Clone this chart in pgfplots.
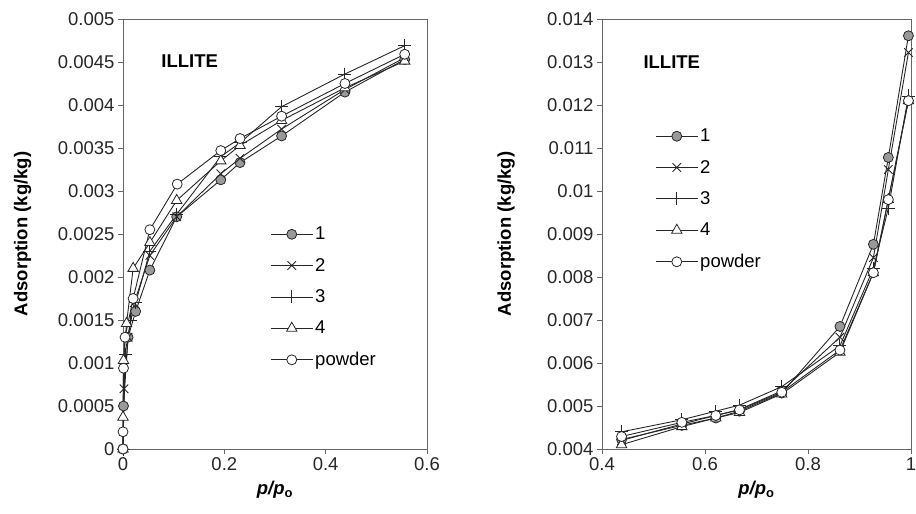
\documentclass[border=0pt]{standalone}
\usepackage{pgfplots}
\pgfplotsset{compat=1.18}
\usepackage{fontspec}
\setmainfont{Liberation Sans}

\newcommand{\fs}{\fontsize{18.5bp}{21bp}\selectfont}

\pgfplotsset{
  isotherm/.style={
    scale only axis, height=430bp,
    axis line style={draw=black!60, line width=0.8bp},
    tick style={draw=black!60, line width=0.6bp},
    tick align=outside, tick pos=left, major tick length=5bp,
    font=\fs,
    ticklabel style={font=\fs, text=black!85},
    /pgf/number format/assume math mode=true,
    scaled ticks=false,
    xticklabel style={/pgf/number format/fixed, /pgf/number format/precision=2},
    yticklabel style={/pgf/number format/fixed, /pgf/number format/precision=4},
    xlabel={\textbf{\textit{p/p}\textsubscript{o}}},
    ylabel={\textbf{Adsorption (kg/kg)}},
    xlabel style={at={(axis description cs:0.5,0)}, yshift=-41bp, anchor=center},
    legend cell align=left,
    legend style={draw=none, fill=none, inner sep=0pt, row sep=13bp, font=\fs},
    legend image code/.code={\draw[mark repeat=2,mark phase=2] plot coordinates {(0bp,0bp) (21bp,0bp) (42bp,0bp)};},
    clip=false,
  },
  s1/.style={draw=black!85, line width=0.9bp, mark=*, mark size=5bp,
    mark options={fill=black!40, draw=black!85, line width=0.8bp}},
  s2/.style={draw=black!85, line width=0.9bp, mark=x, mark size=6bp,
    mark options={draw=black!85, line width=0.9bp}},
  s3/.style={draw=black!85, line width=0.9bp, mark=+, mark size=6.5bp,
    mark options={draw=black!85, line width=0.9bp}},
  s4/.style={draw=black!85, line width=0.9bp, mark=triangle*, mark size=6bp,
    mark options={fill=white, draw=black!85, line width=0.8bp}},
  s5/.style={draw=black!85, line width=0.9bp, mark=*, mark size=5bp,
    mark options={fill=white, draw=black!85, line width=0.8bp}},
}

\begin{document}
\begin{tikzpicture}
\path[use as bounding box] (0,0) rectangle (916bp,514bp);

% left: low pressure range
\begin{axis}[isotherm, at={(123bp,65bp)}, anchor=south west, width=304bp,
  xmin=0, xmax=0.6, ymin=0, ymax=0.005,
  xtick={0,0.2,0.4,0.6},
  ytick={0,0.0005,0.001,0.0015,0.002,0.0025,0.003,0.0035,0.004,0.0045,0.005},
  ylabel style={at={(axis description cs:-0.33,0.5)}, anchor=center},
  legend style={at={(rel axis cs:0.484,0.521)}, anchor=north west},
]
\addplot[s1] coordinates {
  (0,0) (0.001,0.0005) (0.01,0.0013) (0.025,0.0016) (0.053,0.00208) (0.106,0.0027)
  (0.193,0.00313) (0.231,0.00333) (0.313,0.00364) (0.438,0.00415) (0.556,0.00453)};
\addplot[s2] coordinates {
  (0,0) (0.002,0.0007) (0.01,0.0013) (0.022,0.0017) (0.053,0.00225) (0.106,0.0027)
  (0.193,0.0032) (0.231,0.00338) (0.313,0.00372) (0.438,0.00418) (0.556,0.00455)};
\addplot[s3] coordinates {
  (0,0) (0.004,0.0011) (0.015,0.0015) (0.025,0.0017) (0.053,0.0023) (0.106,0.00273)
  (0.193,0.0034) (0.231,0.00356) (0.313,0.00398) (0.438,0.00436) (0.556,0.00469)};
\addplot[s4] coordinates {
  (0,0) (0,0.00037) (0.001,0.00103) (0.007,0.00146) (0.02,0.0021) (0.053,0.0024) (0.106,0.00289)
  (0.193,0.00335) (0.231,0.00353) (0.313,0.00382) (0.438,0.0042) (0.556,0.00451)};
\addplot[s5] coordinates {
  (0,0) (0,0.0002) (0.001,0.00094) (0.004,0.0013) (0.02,0.00175) (0.053,0.00255) (0.107,0.00308)
  (0.193,0.00347) (0.231,0.00361) (0.313,0.00387) (0.438,0.00425) (0.556,0.00459)};
\legend{1,2,3,4,powder}
\node[anchor=west, font=\fs\bfseries] at (rel axis cs:0.115,0.902) {ILLITE};
\end{axis}

% right: high pressure range
\begin{axis}[isotherm, at={(602bp,65bp)}, anchor=south west, width=309bp,
  xmin=0.4, xmax=1, ymin=0.004, ymax=0.014,
  xtick={0.4,0.6,0.8,1},
  ytick={0.004,0.005,0.006,0.007,0.008,0.009,0.01,0.011,0.012,0.013,0.014},
  ylabel style={at={(axis description cs:-0.31,0.5)}, anchor=center},
  legend style={at={(rel axis cs:0.172,0.749)}, anchor=north west},
]
\addplot[s1] coordinates {
  (0.438,0.00422) (0.555,0.00455) (0.621,0.00472) (0.667,0.00488) (0.749,0.0053)
  (0.862,0.00685) (0.927,0.00876) (0.956,0.01078) (0.995,0.01361)};
\addplot[s2] coordinates {
  (0.438,0.0042) (0.555,0.00458) (0.621,0.00478) (0.667,0.00492) (0.749,0.00535)
  (0.862,0.0066) (0.927,0.00845) (0.956,0.0105) (0.995,0.01322)};
\addplot[s3] coordinates {
  (0.438,0.0044) (0.555,0.00468) (0.621,0.00488) (0.667,0.00502) (0.749,0.00545)
  (0.862,0.0064) (0.927,0.0082) (0.956,0.0096) (0.995,0.01221)};
\addplot[s4] coordinates {
  (0.438,0.0041) (0.555,0.00452) (0.621,0.00472) (0.667,0.00485) (0.749,0.00528)
  (0.862,0.00625) (0.927,0.0081) (0.956,0.0098) (0.995,0.0121)};
\addplot[s5] coordinates {
  (0.438,0.00429) (0.555,0.00462) (0.621,0.00478) (0.667,0.00491) (0.749,0.00532)
  (0.862,0.0063) (0.927,0.0081) (0.956,0.0098) (0.995,0.0121)};
\legend{1,2,3,4,powder}
\node[anchor=west, font=\fs\bfseries] at (rel axis cs:0.123,0.9) {ILLITE};
\end{axis}
\end{tikzpicture}
\end{document}
